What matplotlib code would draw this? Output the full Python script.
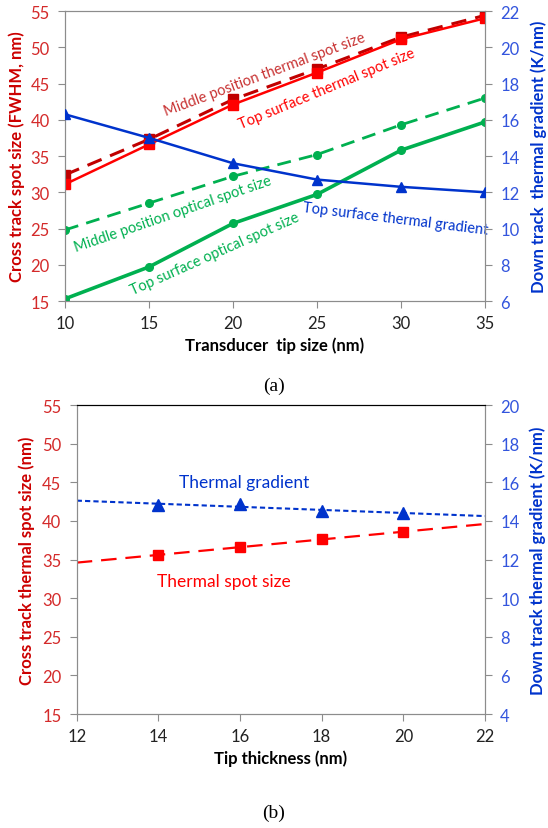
import numpy as np
from matplotlib import pyplot as plt

plt.rcParams["font.family"] = ["Lato", "DejaVu Sans"]

# panel (a)
tip_size = [10, 15, 20, 25, 30, 35]
mid_thermal = [32.4, 37.3, 42.8, 47.0, 51.4, 54.4]
top_thermal = [31.1, 36.6, 42.1, 46.5, 51.1, 54.0]
mid_optical = [24.8, 28.5, 32.2, 35.2, 39.3, 43.0]
top_optical = [15.3, 19.7, 25.7, 29.7, 35.8, 39.7]
top_gradient = [16.3, 15.0, 13.6, 12.7, 12.3, 12.0]

# panel (b)
tip_thickness = [14, 16, 18, 20]
spot_size_b = [35.6, 36.6, 37.6, 38.6]
gradient_b = [14.8, 14.9, 14.5, 14.4]

RED = "#FF0000"
DARK_RED = "#C00000"
GREEN = "#00B050"
BLUE = "#0033CC"
LEFT_TXT = "#D42A2A"
RIGHT_TXT = "#3355DD"
SPINE = "#8C8C8C"


def style_axes(ax, ax2, top_color):
    for side in ["left", "right", "bottom"]:
        ax.spines[side].set_color(SPINE)
        ax2.spines[side].set_color(SPINE)
    ax.spines["top"].set_color(top_color)
    ax2.spines["top"].set_color(top_color)
    ax.tick_params(axis="y", colors=LEFT_TXT, labelsize=12, length=5, pad=6, direction="out")
    ax.tick_params(axis="x", colors="#222222", labelsize=12, length=5, pad=5, direction="out")
    ax2.tick_params(axis="y", colors=RIGHT_TXT, labelsize=12, length=5, pad=6, direction="out")
    # tick marks stay gray, labels keep their colour
    ax.tick_params(axis="x", color=SPINE)
    ax.tick_params(axis="y", color=SPINE)
    ax2.tick_params(axis="y", color=SPINE)


fig = plt.figure(figsize=(5.48, 8.29), dpi=100)

# ---- panel (a)
ax = fig.add_axes([0.1186, 0.6357, 0.7664, 0.3498])
ax2 = ax.twinx()
ax.plot(tip_size, mid_thermal, color=DARK_RED, lw=2.2, ls=(0, (5, 3)), marker="s", ms=6.5, zorder=3)
ax.plot(tip_size, top_thermal, color=RED, lw=1.8, marker="s", ms=6.5, zorder=3)
ax.plot(tip_size, mid_optical, color=GREEN, lw=2.0, ls=(0, (5, 3)), marker="o", ms=5.5, zorder=3)
ax.plot(tip_size, top_optical, color=GREEN, lw=2.6, marker="o", ms=5.5, zorder=3)
ax2.plot(tip_size, top_gradient, color=BLUE, lw=1.8, marker="^", ms=7.5, zorder=3)

ax.set_xlim(10, 35)
ax.set_ylim(15, 55)
ax.set_xticks(tip_size)
ax.set_yticks(np.arange(15, 56, 5))
ax2.set_ylim(6, 22)
ax2.set_yticks(np.arange(6, 23, 2))
style_axes(ax, ax2, SPINE)

ax.set_xlabel("Transducer  tip size (nm)", fontsize=12, fontweight="bold", labelpad=4)
ax.set_ylabel("Cross track spot size (FWHM, nm)", fontsize=12, fontweight="bold", color="#CC0000", labelpad=4)
ax2.set_ylabel("Down track  thermal gradient (K/nm)", fontsize=12, fontweight="bold", color=BLUE, labelpad=8)

ax.text(21.9, 46.3, "Middle position thermal spot size", color="#C83232", fontsize=10.5,
        rotation=20.5, ha="center", va="center", rotation_mode="anchor")
ax.text(25.6, 44.4, "Top surface thermal spot size", color=RED, fontsize=10.5,
        rotation=22.5, ha="center", va="center", rotation_mode="anchor")
ax.text(16.4, 27.1, "Middle position optical spot size", color=GREEN, fontsize=10.5,
        rotation=19, ha="center", va="center", rotation_mode="anchor")
ax.text(18.9, 21.6, "Top surface optical spot size", color=GREEN, fontsize=10.5,
        rotation=24, ha="center", va="center", rotation_mode="anchor")
ax.text(29.7, 26.4, "Top surface thermal gradient", color=BLUE, fontsize=10.5,
        rotation=-7, ha="center", va="center", rotation_mode="anchor")

fig.text(0.5, 1 - 386 / 829, "(a)", fontsize=14, family="Liberation Serif", ha="center", va="center")

# ---- panel (b)
bx = fig.add_axes([0.1400, 0.1375, 0.7450, 0.3727])
bx2 = bx.twinx()
xs = np.array([12, 22])
fit_s = np.polyfit(tip_thickness, spot_size_b, 1)
fit_g = np.polyfit(tip_thickness, gradient_b, 1)
bx.plot(xs, np.polyval(fit_s, xs), color=RED, lw=1.6, ls=(0, (7, 4)), zorder=2)
bx.plot(tip_thickness, spot_size_b, ls="none", color=RED, marker="s", ms=7.5, zorder=3)
bx2.plot(xs, np.polyval(fit_g, xs), color=BLUE, lw=1.5, ls=(0, (2.5, 1.5)), zorder=2)
bx2.plot(tip_thickness, gradient_b, ls="none", color=BLUE, marker="^", ms=8, zorder=3)

bx.set_xlim(12, 22)
bx.set_ylim(15, 55)
bx.set_xticks(np.arange(12, 23, 2))
bx.set_yticks(np.arange(15, 56, 5))
bx2.set_ylim(4, 20)
bx2.set_yticks(np.arange(4, 21, 2))
style_axes(bx, bx2, "black")

bx.set_xlabel("Tip thickness (nm)", fontsize=12, fontweight="bold", labelpad=4)
bx.set_ylabel("Cross track thermal spot size (nm)", fontsize=12, fontweight="bold", color="#CC0000", labelpad=5)
bx2.set_ylabel("Down track thermal gradient (K/nm)", fontsize=12, fontweight="bold", color=BLUE, labelpad=7)

bx.text(16.1, 45.1, "Thermal gradient", color=BLUE, fontsize=12.5, ha="center", va="center")
bx.text(15.6, 32.2, "Thermal spot size", color=RED, fontsize=12.5, ha="center", va="center")

fig.text(0.5, 1 - 813 / 829, "(b)", fontsize=14, family="Liberation Serif", ha="center", va="center")

fig.savefig("out.png", dpi=100)
